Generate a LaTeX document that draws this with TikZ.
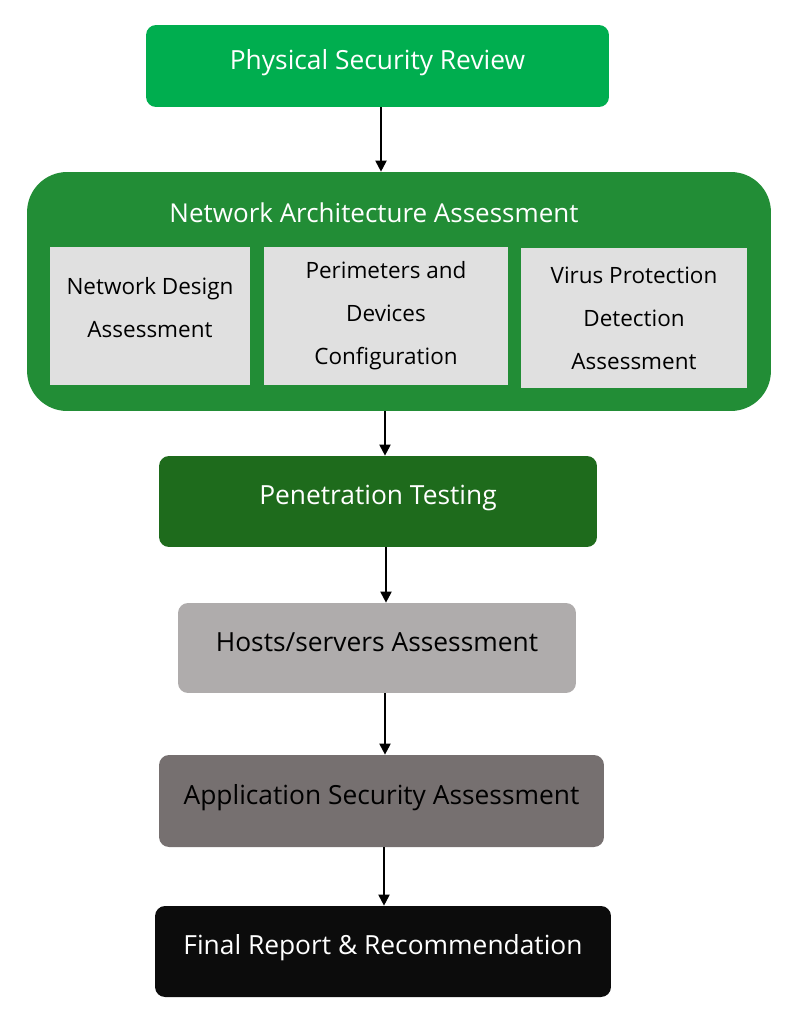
\documentclass[tikz,border=0pt]{standalone}
\usepackage{fontspec}
\setmainfont{Open Sans}
\usetikzlibrary{arrows.meta,positioning}
\definecolor{reviewgreen}{RGB}{0,174,79}
\definecolor{archgreen}{RGB}{34,141,54}
\definecolor{pengreen}{RGB}{30,107,28}
\definecolor{partgray}{RGB}{224,224,224}
\definecolor{hostgray}{RGB}{175,172,172}
\definecolor{appgray}{RGB}{118,112,112}
\definecolor{finalblack}{RGB}{12,12,12}

\begin{document}
\begin{tikzpicture}[x=0.02cm,y=-0.02cm,
  stage/.style={rectangle,rounded corners=0.2cm,minimum height=1.82cm,
    text height=0.45cm,text depth=0.32cm,font=\fontsize{15}{18}\selectfont},
  part/.style={rectangle,fill=partgray,align=center,
    font=\fontsize{12.8}{24.4}\selectfont},
  flow/.style={-{Triangle[length=0.22cm,width=0.22cm]},line width=0.04cm}]
  \useasboundingbox (0,0) rectangle (800,1024);
  % stages
  \node[stage,fill=reviewgreen,text=white,minimum width=9.26cm,minimum height=1.64cm] (review) at (377.5,66) {Physical Security Review};
  \node[rectangle,rounded corners=0.8cm,fill=archgreen,minimum width=14.88cm,minimum height=4.78cm] (arch) at (399,291.5) {};
  \node[text=white,font=\fontsize{14.8}{18}\selectfont] (archtitle) at (374,213) {Network Architecture Assessment};
  \node[part,minimum width=4cm,minimum height=2.76cm,text depth=0.35cm] (design) at (150,316) {Network Design\\Assessment};
  \node[part,minimum width=4.88cm,minimum height=2.76cm] (devices) at (386,316) {Perimeters and\\Devices\\Configuration};
  \node[part,minimum width=4.52cm,minimum height=2.8cm] (virus) at (634,318) {Virus Protection\\Detection\\Assessment};
  \node[stage,fill=pengreen,text=white,minimum width=8.76cm] (pentest) at (378,501.5) {Penetration Testing};
  \node[stage,fill=hostgray,text=black,minimum width=7.96cm,minimum height=1.8cm] (hosts) at (377,648) {Hosts/servers Assessment};
  \node[stage,fill=appgray,text=black,minimum width=8.9cm,minimum height=1.84cm] (appsec) at (381.5,801) {Application Security Assessment};
  \node[stage,fill=finalblack,text=white,minimum width=9.12cm] (report) at (383,951.5) {Final Report \& Recommendation};
  % arrows
  \coordinate (c1) at (381,0);
  \coordinate (c2) at (385,0);
  \coordinate (c3) at (386,0);
  \coordinate (c4) at (384,0);
  \draw[flow] (review.south -| c1) -- (arch.north -| c1);
  \draw[flow] (arch.south -| c2) -- (pentest.north -| c2);
  \draw[flow] (pentest.south -| c3) -- (hosts.north -| c3);
  \draw[flow] (hosts.south -| c2) -- (appsec.north -| c2);
  \draw[flow] (appsec.south -| c4) -- (report.north -| c4);
\end{tikzpicture}
\end{document}
